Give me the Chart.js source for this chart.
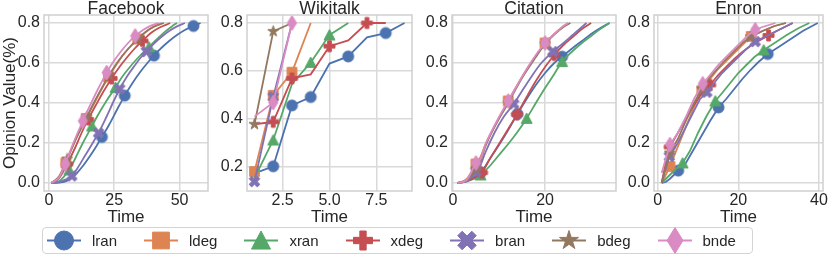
<!DOCTYPE html>
<html>
<head>
<meta charset="utf-8">
<script src="https://cdn.jsdelivr.net/npm/chart.js@4.4.0/dist/chart.umd.min.js"></script>
<style>
html,body{margin:0;padding:0;background:#ffffff;}
#wrap{position:relative;width:830px;height:256px;overflow:hidden;background:#fff;font-family:'Liberation Sans',Arial,sans-serif;}
#wrap canvas.panel{position:absolute;top:0;}
#legend{position:absolute;left:42px;top:227px;width:711px;height:27px;box-sizing:border-box;border:1px solid #d4d4d4;border-radius:4px;background:#fff;display:flex;align-items:center;padding-left:4px;z-index:5;}
.li{display:flex;align-items:center;margin-right:27px;}
.li canvas{margin-right:11px;}
.li span{font-size:15px;color:#262626;line-height:15px;}
</style>
</head>
<body>
<div id="wrap">
  <canvas id="fb" class="panel" width="214" height="230" style="left:0px"></canvas>
  <canvas id="wk" class="panel" width="204" height="230" style="left:214px"></canvas>
  <canvas id="ct" class="panel" width="204" height="230" style="left:418px"></canvas>
  <canvas id="en" class="panel" width="208" height="230" style="left:622px"></canvas>
  <div id="legend"></div>
</div>
<script>
// ---------- series meta ----------
const SERIES = ['lran','ldeg','xran','xdeg','bran','bdeg','bnde'];
const COLORS = ['#4C72B0','#DD8452','#55A868','#C44E52','#8172B3','#937860','#DA8BC3'];
const SHAPES = ['circle','square','triangle','plus','x','star','thindiamond'];

// ---------- tick values / labels ----------
const yTicks = [0, 0.2, 0.4, 0.6, 0.8];
const yTickLabels = ['0.0','0.2','0.4','0.6','0.8'];
const wkYTicks = [0.2, 0.4, 0.6, 0.8];
const wkYTickLabels = ['0.2','0.4','0.6','0.8'];
const fbXTicks = [0, 25, 50];
const fbXTickLabels = ['0','25','50'];
const wkXTicks = [2.5, 5.0, 7.5];
const wkXTickLabels = ['2.5','5.0','7.5'];
const ctXTicks = [0, 20];
const ctXTickLabels = ['0','20'];
const enXTicks = [0, 20, 40];
const enXTickLabels = ['0','20','40'];

// ---------- Facebook ----------
const fbLine = {
  lran: [[1,0],[4,0.002],[7,0.012],[10,0.04],[13,0.085],[16,0.14],[18,0.18],[20.3,0.23],[23,0.29],[26,0.365],[29,0.437],[32,0.5],[35,0.556],[38,0.605],[40.2,0.637],[43,0.675],[46,0.71],[49,0.74],[52,0.765],[55.3,0.785],[58,0.8]],
  ldeg: [[1,0],[4,0.03],[6.5,0.1],[9,0.18],[11.5,0.255],[14.3,0.323],[17,0.39],[20,0.465],[22.8,0.53],[26,0.595],[29,0.65],[32,0.695],[34,0.72],[37,0.755],[40,0.782],[43.3,0.8]],
  xran: [[1,0],[4,0.01],[6,0.035],[7.8,0.065],[10,0.12],[13,0.2],[16.5,0.285],[19,0.345],[22,0.41],[25.5,0.478],[28,0.53],[31,0.58],[34,0.625],[38.3,0.68],[41,0.715],[44,0.752],[47,0.783],[49,0.8]],
  xdeg: [[1,0],[4,0.025],[7,0.095],[10,0.175],[12.5,0.25],[15,0.318],[18,0.39],[21,0.46],[24,0.523],[27,0.58],[30,0.63],[33,0.675],[35.8,0.71],[39,0.75],[42,0.775],[46.4,0.8]],
  bran: [[1,0],[4,0.005],[6.5,0.018],[8.8,0.035],[11,0.075],[14,0.14],[17,0.205],[19,0.25],[22,0.33],[25,0.415],[27.1,0.47],[30,0.535],[33,0.59],[35,0.625],[37.3,0.657],[40,0.695],[43,0.73],[46,0.76],[49,0.783],[52,0.8]],
  bdeg: [[1,0],[4,0.035],[7,0.12],[10,0.21],[13,0.29],[16,0.37],[19,0.445],[22,0.515],[25,0.58],[28,0.635],[31,0.68],[34,0.72],[37,0.755],[40,0.78],[44,0.8]],
  bnde: [[1,0],[4,0.03],[6.3,0.095],[8,0.155],[10,0.22],[13,0.31],[16,0.395],[19,0.475],[22.1,0.552],[25,0.612],[28,0.665],[31,0.71],[33,0.735],[36,0.765],[39,0.787],[42,0.8]]
};
const fbMark = {
  lran: [[20.3,0.23],[29,0.437],[40.2,0.637],[55.3,0.785]],
  ldeg: [[6.5,0.1],[14.3,0.323],[22.8,0.53],[34,0.72]],
  xran: [[7.8,0.065],[16.5,0.285],[25.5,0.478],[38.3,0.68]],
  xdeg: [[7,0.095],[15,0.318],[24,0.523],[35.8,0.71]],
  bran: [[8.8,0.035],[19,0.25],[27.1,0.47],[37.3,0.657]],
  bdeg: [[7,0.12],[14.5,0.33],[23,0.54],[34,0.72]],
  bnde: [[6.3,0.095],[13,0.31],[22.1,0.552],[33,0.735]]
};

// ---------- Wikitalk ----------
const wkLine = {
  lran: [[1,0.17],[2,0.2],[3,0.455],[4,0.49],[5,0.63],[6,0.66],[7,0.74],[8,0.758],[9,0.8]],
  ldeg: [[1,0.178],[2,0.497],[3,0.594],[4,0.8]],
  xran: [[1,0.15],[2,0.31],[3,0.545],[4,0.635],[5,0.75],[6,0.8]],
  xdeg: [[1,0.376],[2,0.386],[3,0.568],[4,0.585],[5,0.703],[6,0.727],[7,0.8],[8,0.8]],
  bran: [[1,0.136],[2,0.49],[3,0.8]],
  bdeg: [[1,0.376],[2,0.765],[3,0.8]],
  bnde: [[1,0.408],[2,0.467],[3,0.8]]
};
const wkMark = {
  lran: [[2,0.2],[3,0.455],[4,0.49],[6,0.66],[8,0.758]],
  ldeg: [[1,0.178],[2,0.497],[3,0.594]],
  xran: [[2,0.31],[4,0.635],[5,0.75]],
  xdeg: [[2,0.386],[3,0.568],[5,0.703],[7,0.8]],
  bran: [[1,0.136],[2,0.49]],
  bdeg: [[1,0.376],[2,0.765]],
  bnde: [[2,0.467],[3,0.8]]
};

// ---------- Citation ----------
const ctLine = {
  lran: [[1,0],[3,0.008],[5,0.035],[6,0.05],[8,0.12],[10,0.19],[12,0.265],[14,0.345],[16,0.42],[18,0.49],[20,0.55],[22,0.6],[23.7,0.632],[26,0.675],[28,0.71],[30,0.745],[32,0.775],[34,0.8]],
  ldeg: [[1,0],[3,0.02],[5,0.095],[6,0.13],[7,0.19],[9,0.28],[12,0.41],[15,0.53],[18,0.635],[20,0.7],[22,0.745],[24,0.785],[25,0.8]],
  xran: [[1,0],[3,0.008],[5,0.025],[6,0.04],[8,0.085],[10,0.14],[12,0.195],[14,0.255],[16,0.323],[18,0.4],[20,0.475],[22,0.545],[23.7,0.607],[26,0.66],[28,0.7],[30,0.735],[32,0.77],[34,0.8]],
  xdeg: [[1,0],[3,0.01],[5,0.03],[6.3,0.052],[8,0.12],[10,0.195],[12,0.27],[13.9,0.343],[16,0.43],[18,0.51],[20,0.58],[22,0.64],[24,0.69],[26,0.73],[28,0.77],[30,0.8]],
  bran: [[1,0],[3,0.01],[5,0.055],[6,0.09],[7,0.15],[9,0.25],[11,0.33],[13.2,0.395],[15,0.46],[17,0.53],[19,0.595],[21.7,0.657],[24,0.7],[26,0.74],[28,0.78],[29,0.8]],
  bdeg: [[1,0],[3,0.015],[5,0.07],[6,0.11],[7,0.18],[9,0.28],[12,0.4],[15,0.525],[18,0.63],[20,0.695],[22,0.742],[24,0.78],[25.5,0.8]],
  bnde: [[1,0],[3,0.015],[5,0.1],[6,0.12],[7,0.19],[8,0.24],[10,0.33],[12,0.41],[14,0.49],[16,0.57],[18,0.64],[20,0.7],[22,0.745],[24,0.785],[25,0.8]]
};
const ctMark = {
  lran: [[6,0.05],[14,0.345],[23.7,0.632]],
  ldeg: [[5,0.095],[12,0.41],[20,0.7]],
  xran: [[6,0.04],[16,0.323],[23.7,0.607]],
  xdeg: [[6.3,0.052],[13.9,0.343],[22,0.64]],
  bran: [[5,0.055],[13.2,0.395],[21.7,0.657]],
  bdeg: [[5,0.07],[12,0.4],[20,0.695]],
  bnde: [[5,0.1],[12,0.41],[20,0.7]]
};

// ---------- Enron ----------
const enLine = {
  lran: [[1,0],[2,0.005],[3,0.02],[4,0.04],[5.1,0.062],[7,0.1],[9,0.17],[11,0.24],[13,0.31],[15.1,0.378],[17,0.42],[19,0.47],[21,0.52],[23,0.565],[25,0.605],[27.3,0.645],[30,0.68],[33,0.72],[36,0.76],[39.7,0.8]],
  ldeg: [[1,0],[2,0.04],[3.06,0.083],[5,0.18],[7,0.28],[9,0.38],[10.96,0.462],[13,0.52],[15,0.57],[17,0.61],[19,0.65],[21,0.69],[23.2,0.733],[26,0.76],[29,0.785],[31.8,0.8]],
  xran: [[1,0],[2,0.02],[4,0.06],[6.2,0.1],[8,0.16],[10,0.25],[12,0.33],[14.3,0.41],[16,0.45],[18,0.5],[20,0.55],[22,0.59],[24,0.63],[26.3,0.665],[29,0.7],[32,0.74],[35,0.775],[37.6,0.8]],
  xdeg: [[1,0],[2,0.1],[3,0.18],[5,0.25],[7,0.32],[9,0.39],[11,0.45],[13,0.49],[15,0.54],[17,0.58],[19,0.62],[21,0.655],[23,0.685],[25,0.71],[27.5,0.738],[30,0.765],[33.5,0.8]],
  bran: [[1,0],[2,0.07],[2.9,0.133],[5,0.2],[7,0.28],[9,0.36],[10.5,0.42],[12.2,0.454],[14,0.5],[16,0.55],[18,0.59],[20,0.63],[22,0.67],[24.2,0.707],[27,0.735],[30,0.765],[33.5,0.8]],
  bdeg: [[1,0],[2,0.08],[3,0.15],[5,0.22],[7,0.31],[9,0.4],[11,0.47],[13,0.53],[15,0.575],[17,0.62],[19,0.66],[21,0.7],[23,0.73],[26,0.76],[29,0.785],[31.8,0.8]],
  bnde: [[1,0.05],[2,0.12],[3.06,0.192],[5,0.25],[7,0.33],[9,0.42],[11.2,0.496],[13,0.54],[15,0.59],[17,0.63],[19,0.67],[21,0.71],[22.5,0.74],[24.2,0.766],[26,0.78],[29.2,0.8]]
};
const enMark = {
  lran: [[5.1,0.062],[15.1,0.378],[27.3,0.645]],
  ldeg: [[3.06,0.083],[10.96,0.462],[23.2,0.733]],
  xran: [[6.2,0.1],[14.3,0.41],[26.3,0.665]],
  xdeg: [[3,0.18],[13,0.49],[27.5,0.738]],
  bran: [[2.9,0.133],[12.2,0.454],[24.2,0.707]],
  bdeg: [[3,0.15],[11,0.47],[23,0.73]],
  bnde: [[3.06,0.192],[11.2,0.496],[24.2,0.766]]
};

// ---------- styling helpers ----------
const FONT = "'Liberation Sans', Arial, sans-serif";
const TEXT = '#262626';
const GRID = '#d9d9d9';
Chart.defaults.font.family = FONT;
Chart.defaults.color = TEXT;

function drawMarker(ctx, shape, cx, cy, s, color) {
  ctx.save();
  ctx.fillStyle = color; ctx.strokeStyle = color; ctx.lineWidth = 1;
  ctx.beginPath();
  const h = s / 2;
  if (shape === 'circle') {
    ctx.arc(cx, cy, h, 0, Math.PI * 2);
  } else if (shape === 'square') {
    const a = h * 0.88; ctx.rect(cx - a, cy - a, 2 * a, 2 * a);
  } else if (shape === 'triangle') {
    ctx.moveTo(cx, cy - h); ctx.lineTo(cx + h, cy + h * 0.9); ctx.lineTo(cx - h, cy + h * 0.9); ctx.closePath();
  } else if (shape === 'plus' || shape === 'x') {
    const t = s / 6;
    const L = shape === 'x' ? h * 1.05 : h;
    const pts = [[-t,-L],[t,-L],[t,-t],[L,-t],[L,t],[t,t],[t,L],[-t,L],[-t,t],[-L,t],[-L,-t],[-t,-t]];
    const ang = shape === 'x' ? Math.PI / 4 : 0;
    pts.forEach((p, i) => {
      const x = p[0] * Math.cos(ang) - p[1] * Math.sin(ang);
      const y = p[0] * Math.sin(ang) + p[1] * Math.cos(ang);
      if (i) ctx.lineTo(cx + x, cy + y); else ctx.moveTo(cx + x, cy + y);
    });
    ctx.closePath();
  } else if (shape === 'star') {
    const R = h * 1.05, r = R * 0.382;
    for (let i = 0; i < 10; i++) {
      const a = -Math.PI / 2 + i * Math.PI / 5;
      const rr = i % 2 ? r : R;
      const x = cx + rr * Math.cos(a), y = cy + rr * Math.sin(a);
      if (i) ctx.lineTo(x, y); else ctx.moveTo(x, y);
    }
    ctx.closePath();
  } else if (shape === 'thindiamond') {
    const hh = s * 0.68, hw = s * 0.42;
    ctx.moveTo(cx, cy - hh); ctx.lineTo(cx + hw, cy); ctx.lineTo(cx, cy + hh); ctx.lineTo(cx - hw, cy); ctx.closePath();
  }
  ctx.fill(); ctx.stroke();
  ctx.restore();
}

function markerCanvas(shape, color, s) {
  const c = document.createElement('canvas');
  const n = Math.ceil(s * 1.5) + 2;
  c.width = n; c.height = n;
  drawMarker(c.getContext('2d'), shape, n / 2, n / 2, s, color);
  return c;
}

const PLOT_MARKER = 11;
const markerImgs = SHAPES.map((sh, i) => markerCanvas(sh, COLORS[i], PLOT_MARKER));

const framePlugin = {
  id: 'frame',
  afterDatasetsDraw(chart) {
    const { ctx, chartArea: a } = chart;
    ctx.save();
    ctx.strokeStyle = '#cfcfcf';
    ctx.lineWidth = 1.5;
    ctx.strokeRect(a.left, a.top, a.right - a.left, a.bottom - a.top);
    ctx.restore();
  }
};

function makePanel(id, title, lines, marks, cfg) {
  const datasets = [];
  SERIES.forEach((name, i) => {
    datasets.push({
      label: name,
      data: lines[name],
      borderColor: COLORS[i],
      backgroundColor: COLORS[i],
      borderWidth: 1.8,
      pointRadius: 0,
      fill: false,
      tension: 0,
      cubicInterpolationMode: cfg.smooth ? 'monotone' : 'default',
      order: (6 - i) * 2 + 1
    });
    datasets.push({
      label: name + ' markers',
      data: marks[name],
      showLine: false,
      pointStyle: markerImgs[i],
      pointRadius: 5,
      borderColor: COLORS[i],
      backgroundColor: COLORS[i],
      order: (6 - i) * 2
    });
  });
  return new Chart(document.getElementById(id), {
    type: 'line',
    data: { datasets },
    plugins: [framePlugin],
    options: {
      responsive: false,
      animation: false,
      devicePixelRatio: 1,
      layout: { padding: { left: 0, right: cfg.padR, top: 0, bottom: 0 } },
      plugins: {
        legend: { display: false },
        tooltip: { enabled: false },
        title: {
          display: true, text: title, color: TEXT, fullSize: false,
          font: { family: FONT, size: 17.5, weight: 'normal', lineHeight: '12px' },
          padding: { top: 3, bottom: 0 }
        }
      },
      scales: {
        x: {
          type: 'linear', min: cfg.xMin, max: cfg.xMax,
          afterBuildTicks: s => { s.ticks = cfg.xTicks.map(v => ({ value: v })); },
          afterFit: s => { s.height = 39; s.paddingLeft = 0; s.paddingRight = 0; },
          ticks: {
            color: TEXT, font: { family: FONT, size: 16 }, padding: 0, maxRotation: 0, autoSkip: false,
            callback: (v) => { const k = cfg.xTicks.indexOf(v); return k >= 0 ? cfg.xLabels[k] : ''; }
          },
          grid: { color: GRID, lineWidth: 1.5, drawTicks: false },
          border: { display: false },
          title: {
            display: true, text: 'Time', color: TEXT,
            font: { family: FONT, size: 17, lineHeight: '18px' },
            padding: { top: 0, bottom: 4 }
          }
        },
        y: {
          type: 'linear', min: cfg.yMin, max: cfg.yMax,
          afterBuildTicks: s => { s.ticks = cfg.yTicks.map(v => ({ value: v })); },
          afterFit: s => { s.width = cfg.yW; s.paddingTop = 0; s.paddingBottom = 0; },
          ticks: {
            color: TEXT, font: { family: FONT, size: 16 }, padding: 4, autoSkip: false,
            callback: (v) => { const k = cfg.yTicks.indexOf(v); return k >= 0 ? cfg.yLabels[k] : ''; }
          },
          grid: { color: GRID, lineWidth: 1.5, drawTicks: false },
          border: { display: false },
          title: {
            display: !!cfg.yTitle, text: cfg.yTitle || '', color: TEXT,
            font: { family: FONT, size: 17, lineHeight: '18px' },
            padding: { top: 1, bottom: 0 }
          }
        }
      }
    }
  });
}

makePanel('fb', 'Facebook', fbLine, fbMark, {
  smooth: true, padR: 2, yW: 44, yTitle: 'Opinion Value(%)',
  xMin: -1.85, xMax: 60.85, yMin: -0.04, yMax: 0.84,
  xTicks: fbXTicks, xLabels: fbXTickLabels, yTicks: yTicks, yLabels: yTickLabels
});
makePanel('wk', 'Wikitalk', wkLine, wkMark, {
  smooth: false, padR: 2, yW: 33,
  xMin: 0.6, xMax: 9.4, yMin: 0.0965, yMax: 0.8335,
  xTicks: wkXTicks, xLabels: wkXTickLabels, yTicks: wkYTicks, yLabels: wkYTickLabels
});
makePanel('ct', 'Citation', ctLine, ctMark, {
  smooth: true, padR: 2, yW: 34,
  xMin: -0.2, xMax: 35.4, yMin: -0.04, yMax: 0.84,
  xTicks: ctXTicks, xLabels: ctXTickLabels, yTicks: yTicks, yLabels: yTickLabels
});
makePanel('en', 'Enron', enLine, enMark, {
  smooth: false, padR: 7, yW: 32,
  xMin: -0.9, xMax: 41, yMin: -0.04, yMax: 0.84,
  xTicks: enXTicks, xLabels: enXTickLabels, yTicks: yTicks, yLabels: yTickLabels
});

// ---------- legend ----------
const legend = document.getElementById('legend');
SERIES.forEach((name, i) => {
  const item = document.createElement('div');
  item.className = 'li';
  const c = document.createElement('canvas');
  c.width = 34; c.height = 27;
  const ctx = c.getContext('2d');
  ctx.strokeStyle = COLORS[i]; ctx.lineWidth = 1.8;
  ctx.beginPath(); ctx.moveTo(0, 13.5); ctx.lineTo(34, 13.5); ctx.stroke();
  drawMarker(ctx, SHAPES[i], 17, 13.5, 19, COLORS[i]);
  const sp = document.createElement('span');
  sp.textContent = name;
  item.appendChild(c); item.appendChild(sp);
  legend.appendChild(item);
});
</script>
</body>
</html>
